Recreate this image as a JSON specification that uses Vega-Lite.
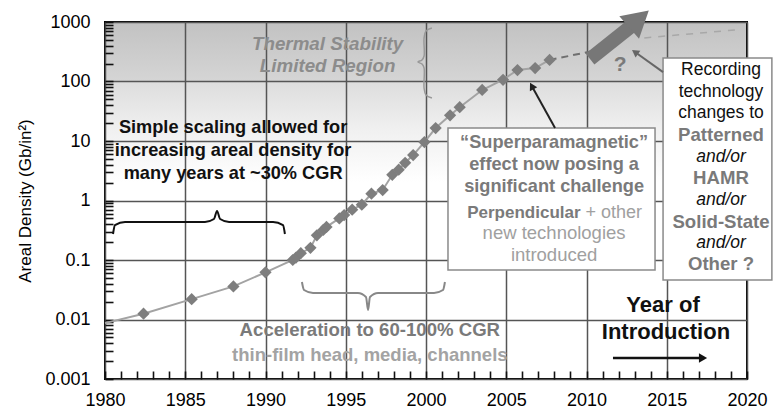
{
  "$schema": "https://vega.github.io/schema/vega-lite/v6.json",
  "width": 642,
  "height": 357,
  "autosize": {"type": "none"},
  "padding": {"left": 105, "top": 22, "right": 26, "bottom": 30},
  "background": "white",
  "config": {
    "view": {
      "stroke": "black",
      "strokeWidth": 2,
      "fill": {
        "gradient": "linear", "x1": 0, "y1": 0, "x2": 0, "y2": 1,
        "stops": [
          {"offset": 0, "color": "#c2c2c2"},
          {"offset": 0.165, "color": "#d5d5d5"},
          {"offset": 0.168, "color": "#dddddd"},
          {"offset": 0.3, "color": "#f0f0f0"},
          {"offset": 0.45, "color": "#ffffff"},
          {"offset": 1, "color": "#ffffff"}
        ]
      }
    },
    "text": {"font": "Liberation Sans"},
    "axis": {"labelFont": "Liberation Sans", "titleFont": "Liberation Sans"}
  },
  "datasets": {
    "density": [
      {"year": 1980.0, "density": 0.0087, "measured": false},
      {"year": 1982.4, "density": 0.0125, "measured": true},
      {"year": 1985.4, "density": 0.022, "measured": true},
      {"year": 1988.0, "density": 0.036, "measured": true},
      {"year": 1990.0, "density": 0.062, "measured": true},
      {"year": 1991.7, "density": 0.1, "measured": true},
      {"year": 1991.9, "density": 0.11, "measured": true},
      {"year": 1992.2, "density": 0.13, "measured": true},
      {"year": 1992.8, "density": 0.16, "measured": true},
      {"year": 1993.2, "density": 0.26, "measured": true},
      {"year": 1993.6, "density": 0.32, "measured": true},
      {"year": 1993.8, "density": 0.36, "measured": true},
      {"year": 1994.6, "density": 0.5, "measured": true},
      {"year": 1994.9, "density": 0.57, "measured": true},
      {"year": 1995.4, "density": 0.7, "measured": true},
      {"year": 1996.0, "density": 0.85, "measured": true},
      {"year": 1996.6, "density": 1.3, "measured": true},
      {"year": 1997.3, "density": 1.5, "measured": true},
      {"year": 1997.9, "density": 2.7, "measured": true},
      {"year": 1998.3, "density": 3.3, "measured": true},
      {"year": 1998.7, "density": 4.3, "measured": true},
      {"year": 1999.2, "density": 5.8, "measured": true},
      {"year": 1999.9, "density": 9.6, "measured": true},
      {"year": 2000.6, "density": 16.5, "measured": true},
      {"year": 2001.5, "density": 27, "measured": true},
      {"year": 2002.1, "density": 37, "measured": true},
      {"year": 2003.5, "density": 72, "measured": true},
      {"year": 2004.8, "density": 107, "measured": true},
      {"year": 2005.7, "density": 156, "measured": true},
      {"year": 2006.8, "density": 168, "measured": true},
      {"year": 2007.7, "density": 230, "measured": true}
    ],
    "projection": [
      {"part": "near", "year": 2007.7, "density": 230},
      {"part": "near", "year": 2010.5, "density": 330},
      {"part": "far", "year": 2013.6, "density": 540},
      {"part": "far", "year": 2019.5, "density": 745}
    ],
    "bigArrow": [
      {"year": 2010.22, "density": 239, "year2": 2012.84, "density2": 873}
    ],
    "bigArrowHead": [
      {"year": 2013.27, "density": 1123}
    ],
    "braces": [
      {"brace": "simple", "order": 1, "year": 1980.5, "density": 0.2735},
      {"brace": "simple", "order": 2, "year": 1980.62, "density": 0.387},
      {"brace": "simple", "order": 3, "year": 1981.25, "density": 0.4355},
      {"brace": "simple", "order": 4, "year": 1986.23, "density": 0.4355},
      {"brace": "simple", "order": 5, "year": 1986.79, "density": 0.4887},
      {"brace": "simple", "order": 6, "year": 1986.98, "density": 0.667},
      {"brace": "simple", "order": 7, "year": 1987.17, "density": 0.4887},
      {"brace": "simple", "order": 8, "year": 1987.73, "density": 0.4355},
      {"brace": "simple", "order": 9, "year": 1990.47, "density": 0.4355},
      {"brace": "simple", "order": 10, "year": 1991.09, "density": 0.387},
      {"brace": "simple", "order": 11, "year": 1991.21, "density": 0.2735},
      {"brace": "accel", "order": 1, "year": 1992.27, "density": 0.0427},
      {"brace": "accel", "order": 2, "year": 1992.4, "density": 0.0313},
      {"brace": "accel", "order": 3, "year": 1992.96, "density": 0.0279},
      {"brace": "accel", "order": 4, "year": 1995.76, "density": 0.0279},
      {"brace": "accel", "order": 5, "year": 1996.26, "density": 0.0239},
      {"brace": "accel", "order": 6, "year": 1996.39, "density": 0.01446},
      {"brace": "accel", "order": 7, "year": 1996.51, "density": 0.0239},
      {"brace": "accel", "order": 8, "year": 1997.01, "density": 0.0279},
      {"brace": "accel", "order": 9, "year": 2000.5, "density": 0.0279},
      {"brace": "accel", "order": 10, "year": 2001.06, "density": 0.0313},
      {"brace": "accel", "order": 11, "year": 2001.18, "density": 0.0427},
      {"brace": "thermal", "order": 1, "year": 2000.37, "density": 793},
      {"brace": "thermal", "order": 2, "year": 2000.0, "density": 706},
      {"brace": "thermal", "order": 3, "year": 1999.88, "density": 538},
      {"brace": "thermal", "order": 4, "year": 1999.88, "density": 268},
      {"brace": "thermal", "order": 5, "year": 1999.75, "density": 230},
      {"brace": "thermal", "order": 6, "year": 1999.5, "density": 213},
      {"brace": "thermal", "order": 7, "year": 1999.75, "density": 197},
      {"brace": "thermal", "order": 8, "year": 1999.88, "density": 169},
      {"brace": "thermal", "order": 9, "year": 1999.88, "density": 77.8},
      {"brace": "thermal", "order": 10, "year": 2000.0, "density": 59.3},
      {"brace": "thermal", "order": 11, "year": 2000.37, "density": 52.8}
    ],
    "boxes": [
      {"box": "super", "year": 2001.37, "year2": 2014.27, "density": 16.5, "density2": 0.068},
      {"box": "recording", "year": 2014.77, "year2": 2021.55, "density": 248, "density2": 0.0461}
    ],
    "pointers": [
      {"pointer": "super", "year": 2008.04, "density": 16.5, "year2": 2006.59, "density2": 84},
      {"pointer": "recording", "year": 2014.77, "density": 144, "year2": 2013.02, "density2": 313},
      {"pointer": "time", "year": 2011.65, "density": 0.00225, "year2": 2017.26, "density2": 0.00225}
    ],
    "notes": [
      {"group": "simple", "year": 1987.98, "density": 16.5, "label": "Simple scaling allowed for"},
      {"group": "simple", "year": 1987.98, "density": 6.79, "label": "increasing areal density for"},
      {"group": "simple", "year": 1987.98, "density": 2.79, "label": "many years at ~30% CGR"},
      {"group": "thermal", "year": 1993.87, "density": 427, "label": "Thermal Stability"},
      {"group": "thermal", "year": 1993.87, "density": 182, "label": "Limited Region"},
      {"group": "superBold", "year": 2007.98, "density": 9.25, "label": "“Superparamagnetic”"},
      {"group": "superBold", "year": 2007.98, "density": 3.95, "label": "effect now posing a"},
      {"group": "superBold", "year": 2007.98, "density": 1.69, "label": "significant challenge"},
      {"group": "perpBold", "year": 2009.63, "density": 0.616, "label": "Perpendicular"},
      {"group": "perpLight", "year": 2009.94, "density": 0.616, "label": "+ other"},
      {"group": "light", "year": 2007.98, "density": 0.284, "label": "new technologies"},
      {"group": "light", "year": 2007.98, "density": 0.121, "label": "introduced"},
      {"group": "recBlack", "year": 2018.38, "density": 156, "label": "Recording"},
      {"group": "recBlack", "year": 2018.38, "density": 66.6, "label": "technology"},
      {"group": "recBlack", "year": 2018.38, "density": 29.6, "label": "changes to"},
      {"group": "recGray", "year": 2018.38, "density": 12.6, "label": "Patterned"},
      {"group": "recItalic", "year": 2018.38, "density": 5.39, "label": "and/or"},
      {"group": "recGray", "year": 2018.38, "density": 2.39, "label": "HAMR"},
      {"group": "recItalic", "year": 2018.38, "density": 1.02, "label": "and/or"},
      {"group": "recGray", "year": 2018.38, "density": 0.435, "label": "Solid-State"},
      {"group": "recItalic", "year": 2018.38, "density": 0.193, "label": "and/or"},
      {"group": "recGray", "year": 2018.38, "density": 0.0857, "label": "Other ?"},
      {"group": "accel", "year": 1996.5, "density": 0.00667, "label": "Acceleration to 60-100% CGR"},
      {"group": "thin", "year": 1996.5, "density": 0.00253, "label": "thin-film head, media, channels"},
      {"group": "intro", "year": 2014.77, "density": 0.01754, "label": "Year of"},
      {"group": "intro", "year": 2014.95, "density": 0.00617, "label": "Introduction"},
      {"group": "question", "year": 2012.09, "density": 189, "label": "?"}
    ]
  },
  "encoding": {
    "x": {
      "field": "year",
      "type": "quantitative",
      "scale": {"domain": [1980, 2020], "nice": false, "zero": false},
      "axis": {
        "title": null,
        "values": [1980,1981,1982,1983,1984,1985,1986,1987,1988,1989,1990,1991,1992,1993,1994,1995,1996,1997,1998,1999,2000,2001,2002,2003,2004,2005,2006,2007,2008,2009,2010,2011,2012,2013,2014,2015,2016,2017,2018,2019,2020],
        "format": "d",
        "labelExpr": "datum.value % 5 === 0 ? datum.label : ''",
        "labelOverlap": false,
        "labelFlush": false,
        "labelFontSize": 18,
        "labelColor": "black",
        "labelPadding": 20,
        "domain": false,
        "ticks": true,
        "grid": true,
        "gridColor": "#555555",
        "gridWidth": 1.5,
        "gridOpacity": {"condition": {"test": "datum.value % 5 === 0", "value": 1}, "value": 0},
        "tickSize": -8,
        "tickColor": "#111111",
        "tickWidth": 1.6
      }
    },
    "y": {
      "field": "density",
      "type": "quantitative",
      "scale": {"type": "log", "domain": [0.001, 1000], "nice": false},
      "axis": {
        "title": "Areal Density (Gb/in²)",
        "titleFontSize": 17,
        "titleFontWeight": "normal",
        "titleColor": "black",
        "titlePadding": 10,
        "values": [0.001,0.002,0.003,0.004,0.005,0.006,0.007,0.008,0.009,0.01,0.02,0.03,0.04,0.05,0.06,0.07,0.08,0.09,0.1,0.2,0.3,0.4,0.5,0.6,0.7,0.8,0.9,1,2,3,4,5,6,7,8,9,10,20,30,40,50,60,70,80,90,100,200,300,400,500,600,700,800,900,1000],
        "labelExpr": "abs(log(datum.value)/LN10 - round(log(datum.value)/LN10)) < 0.01 ? format(datum.value, '~g') : ''",
        "labelOverlap": false,
        "labelFlush": false,
        "labelFontSize": 18,
        "labelColor": "black",
        "labelPadding": 23,
        "domain": false,
        "ticks": true,
        "grid": true,
        "gridColor": "#555555",
        "gridWidth": 1.5,
        "gridOpacity": {"condition": {"test": "abs(log(datum.value)/LN10 - round(log(datum.value)/LN10)) < 0.01", "value": 1}, "value": 0},
        "tickSize": -8,
        "tickColor": "#111111",
        "tickWidth": 1.6
      }
    }
  },
  "layer": [
    {
      "data": {"name": "density"},
      "mark": {"type": "line", "color": "#a3a3a3", "strokeWidth": 2},
      "encoding": {}
    },
    {
      "data": {"name": "projection"},
      "transform": [{"filter": "datum.part === 'near'"}],
      "mark": {"type": "line", "color": "#6f6f6f", "strokeWidth": 2, "strokeDash": [7, 5]},
      "encoding": {}
    },
    {
      "data": {"name": "projection"},
      "transform": [{"filter": "datum.part === 'far'"}],
      "mark": {"type": "line", "color": "#a8a8a8", "strokeWidth": 1.5, "strokeDash": [7, 7]},
      "encoding": {}
    },
    {
      "data": {"name": "density"},
      "transform": [{"filter": "datum.measured"}],
      "mark": {"type": "point", "shape": "diamond", "filled": true, "size": 150, "color": "#7e7e7e", "opacity": 1},
      "encoding": {}
    },
    {
      "data": {"name": "bigArrow"},
      "mark": {"type": "rule", "color": "#777777", "strokeWidth": 14},
      "encoding": {"x2": {"field": "year2"}, "y2": {"field": "density2"}}
    },
    {
      "data": {"name": "bigArrowHead"},
      "mark": {"type": "point", "shape": "triangle-up", "filled": true, "size": 900, "angle": 49, "color": "#777777", "opacity": 1},
      "encoding": {}
    },
    {
      "data": {"name": "braces"},
      "transform": [{"filter": "datum.brace === 'simple'"}],
      "mark": {"type": "line", "color": "#111111", "strokeWidth": 2, "interpolate": "monotone"},
      "encoding": {"order": {"field": "order"}}
    },
    {
      "data": {"name": "braces"},
      "transform": [{"filter": "datum.brace === 'accel'"}],
      "mark": {"type": "line", "color": "#888888", "strokeWidth": 2, "interpolate": "monotone"},
      "encoding": {"order": {"field": "order"}}
    },
    {
      "data": {"name": "braces"},
      "transform": [{"filter": "datum.brace === 'thermal'"}],
      "mark": {"type": "line", "color": "#999999", "strokeWidth": 1.5, "interpolate": "catmull-rom"},
      "encoding": {"order": {"field": "order"}}
    },
    {
      "data": {"name": "boxes"},
      "mark": {"type": "rect", "fill": "white", "stroke": "#8a8a8a", "strokeWidth": 1.5},
      "encoding": {"x2": {"field": "year2"}, "y2": {"field": "density2"}}
    },
    {
      "data": {"name": "pointers"},
      "transform": [{"filter": "datum.pointer === 'super'"}],
      "mark": {"type": "rule", "color": "#222222", "strokeWidth": 2},
      "encoding": {"x2": {"field": "year2"}, "y2": {"field": "density2"}}
    },
    {
      "data": {"name": "pointers"},
      "transform": [{"filter": "datum.pointer === 'super'"}],
      "mark": {"type": "point", "shape": "triangle-up", "filled": true, "size": 70, "angle": -29, "color": "#222222", "opacity": 1},
      "encoding": {"x": {"field": "year2", "type": "quantitative"}, "y": {"field": "density2", "type": "quantitative"}}
    },
    {
      "data": {"name": "pointers"},
      "transform": [{"filter": "datum.pointer === 'recording'"}],
      "mark": {"type": "rule", "color": "#666666", "strokeWidth": 2},
      "encoding": {"x2": {"field": "year2"}, "y2": {"field": "density2"}}
    },
    {
      "data": {"name": "pointers"},
      "transform": [{"filter": "datum.pointer === 'recording'"}],
      "mark": {"type": "point", "shape": "triangle-up", "filled": true, "size": 70, "angle": -55, "color": "#666666", "opacity": 1},
      "encoding": {"x": {"field": "year2", "type": "quantitative"}, "y": {"field": "density2", "type": "quantitative"}}
    },
    {
      "data": {"name": "pointers"},
      "transform": [{"filter": "datum.pointer === 'time'"}],
      "mark": {"type": "rule", "color": "#111111", "strokeWidth": 2.5},
      "encoding": {"x2": {"field": "year2"}}
    },
    {
      "data": {"name": "pointers"},
      "transform": [{"filter": "datum.pointer === 'time'"}],
      "mark": {"type": "point", "shape": "triangle-right", "filled": true, "size": 90, "color": "#111111", "opacity": 1},
      "encoding": {"x": {"field": "year2", "type": "quantitative"}}
    },
    {
      "data": {"name": "notes"},
      "transform": [{"filter": "datum.group === 'simple'"}],
      "mark": {"type": "text", "fontSize": 18.2, "fontWeight": "bold", "color": "#111111", "baseline": "middle"},
      "encoding": {"text": {"field": "label"}}
    },
    {
      "data": {"name": "notes"},
      "transform": [{"filter": "datum.group === 'thermal'"}],
      "mark": {"type": "text", "fontSize": 18.8, "fontWeight": "bold", "fontStyle": "italic", "color": "#8c8c8c", "baseline": "middle"},
      "encoding": {"text": {"field": "label"}}
    },
    {
      "data": {"name": "notes"},
      "transform": [{"filter": "datum.group === 'superBold'"}],
      "mark": {"type": "text", "fontSize": 18.2, "fontWeight": "bold", "color": "#7a7a7a", "baseline": "middle"},
      "encoding": {"text": {"field": "label"}}
    },
    {
      "data": {"name": "notes"},
      "transform": [{"filter": "datum.group === 'perpBold'"}],
      "mark": {"type": "text", "fontSize": 17, "fontWeight": "bold", "color": "#7a7a7a", "baseline": "middle", "align": "right"},
      "encoding": {"text": {"field": "label"}}
    },
    {
      "data": {"name": "notes"},
      "transform": [{"filter": "datum.group === 'perpLight'"}],
      "mark": {"type": "text", "fontSize": 18, "color": "#a0a0a0", "baseline": "middle", "align": "left"},
      "encoding": {"text": {"field": "label"}}
    },
    {
      "data": {"name": "notes"},
      "transform": [{"filter": "datum.group === 'light'"}],
      "mark": {"type": "text", "fontSize": 18.5, "color": "#a0a0a0", "baseline": "middle"},
      "encoding": {"text": {"field": "label"}}
    },
    {
      "data": {"name": "notes"},
      "transform": [{"filter": "datum.group === 'recBlack'"}],
      "mark": {"type": "text", "fontSize": 17.5, "color": "#111111", "baseline": "middle"},
      "encoding": {"text": {"field": "label"}}
    },
    {
      "data": {"name": "notes"},
      "transform": [{"filter": "datum.group === 'recItalic'"}],
      "mark": {"type": "text", "fontSize": 17.5, "fontStyle": "italic", "color": "#111111", "baseline": "middle"},
      "encoding": {"text": {"field": "label"}}
    },
    {
      "data": {"name": "notes"},
      "transform": [{"filter": "datum.group === 'recGray'"}],
      "mark": {"type": "text", "fontSize": 18.6, "fontWeight": "bold", "color": "#7a7a7a", "baseline": "middle"},
      "encoding": {"text": {"field": "label"}}
    },
    {
      "data": {"name": "notes"},
      "transform": [{"filter": "datum.group === 'accel'"}],
      "mark": {"type": "text", "fontSize": 18.6, "fontWeight": "bold", "color": "#7a7a7a", "baseline": "middle"},
      "encoding": {"text": {"field": "label"}}
    },
    {
      "data": {"name": "notes"},
      "transform": [{"filter": "datum.group === 'thin'"}],
      "mark": {"type": "text", "fontSize": 18.5, "fontWeight": "bold", "color": "#a3a3a3", "baseline": "middle"},
      "encoding": {"text": {"field": "label"}}
    },
    {
      "data": {"name": "notes"},
      "transform": [{"filter": "datum.group === 'intro'"}],
      "mark": {"type": "text", "fontSize": 22, "fontWeight": "bold", "color": "#111111", "baseline": "middle"},
      "encoding": {"text": {"field": "label"}}
    },
    {
      "data": {"name": "notes"},
      "transform": [{"filter": "datum.group === 'question'"}],
      "mark": {"type": "text", "fontSize": 21, "fontWeight": "bold", "color": "#7a7a7a", "baseline": "middle"},
      "encoding": {"text": {"field": "label"}}
    }
  ]
}
